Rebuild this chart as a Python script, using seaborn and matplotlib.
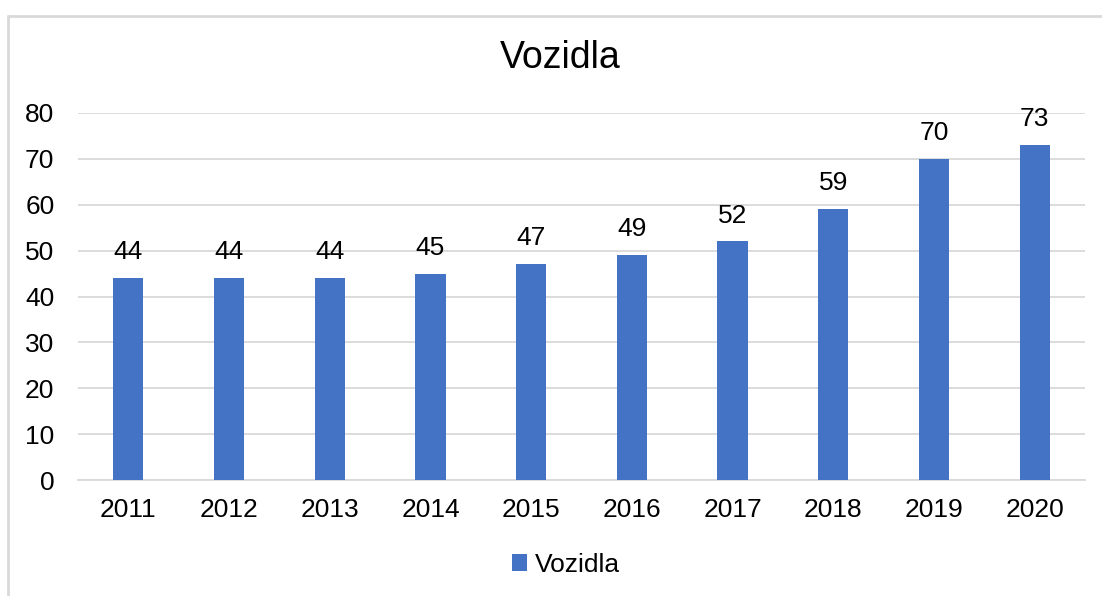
import matplotlib
matplotlib.use("Agg")
import matplotlib.pyplot as plt
import seaborn as sns
import pandas as pd
from matplotlib.lines import Line2D

years = ["2011", "2012", "2013", "2014", "2015", "2016", "2017", "2018", "2019", "2020"]
values = [44, 44, 44, 45, 47, 49, 52, 59, 70, 73]
series_name = "Vozidla"
title = "Vozidla"
yticks = [0, 10, 20, 30, 40, 50, 60, 70, 80]

sns.set_theme(style="white")
plt.rcParams["font.family"] = ["Liberation Sans", "DejaVu Sans"]
plt.rcParams["text.color"] = "black"

df = pd.DataFrame({"year": years, "value": values})

fig = plt.figure(figsize=(11.02, 5.96), dpi=100)
ax = fig.add_axes([78 / 1102, 1 - 480 / 596, (1085 - 78) / 1102, (480 - 113) / 596])

sns.barplot(data=df, x="year", y="value", color="#4472C4", width=0.3,
            saturation=1, ax=ax, label=series_name, zorder=3, linewidth=0)

ax.set_ylim(0, 80)
ax.set_xlim(-0.5, len(years) - 0.5)
ax.set_yticks(yticks)
ax.set_yticklabels([str(t) for t in yticks])
ax.yaxis.grid(True, color="#D9D9D9", linewidth=1.3, zorder=0)
ax.xaxis.grid(False)
for s in ["top", "right", "left"]:
    ax.spines[s].set_visible(False)
ax.spines["bottom"].set_color("#D9D9D9")
ax.spines["bottom"].set_linewidth(1.3)
ax.set_xlabel("")
ax.set_ylabel("")
ax.tick_params(axis="y", length=0, pad=17, labelsize=19, labelcolor="black")
ax.tick_params(axis="x", length=0, pad=13, labelsize=19, labelcolor="black")

for i, v in enumerate(values):
    ax.annotate(str(v), xy=(i, v), xytext=(0, 10), textcoords="offset points",
                ha="center", va="bottom", fontsize=19, color="black")

fig.text(560 / 1102, 1 - 58 / 596, title, ha="center", va="center",
         fontsize=27, color="black")

handles, labels = ax.get_legend_handles_labels()
if ax.get_legend() is not None:
    ax.get_legend().remove()
fig.legend(handles, labels, loc="center", bbox_to_anchor=(566 / 1102, 1 - 565 / 596),
           frameon=False, fontsize=19, handlelength=0.6, handleheight=0.6,
           handletextpad=0.3, borderpad=0, labelcolor="black")

# outer chart border (extends beyond image right/bottom)
fig.add_artist(Line2D([8 / 1102, 1.0], [1 - 16 / 596, 1 - 16 / 596],
                      transform=fig.transFigure, color="#D9D9D9", linewidth=2))
fig.add_artist(Line2D([8 / 1102, 8 / 1102], [1 - 16 / 596, 0.0],
                      transform=fig.transFigure, color="#D9D9D9", linewidth=2))

fig.savefig("out.png", dpi=100, facecolor="white")
